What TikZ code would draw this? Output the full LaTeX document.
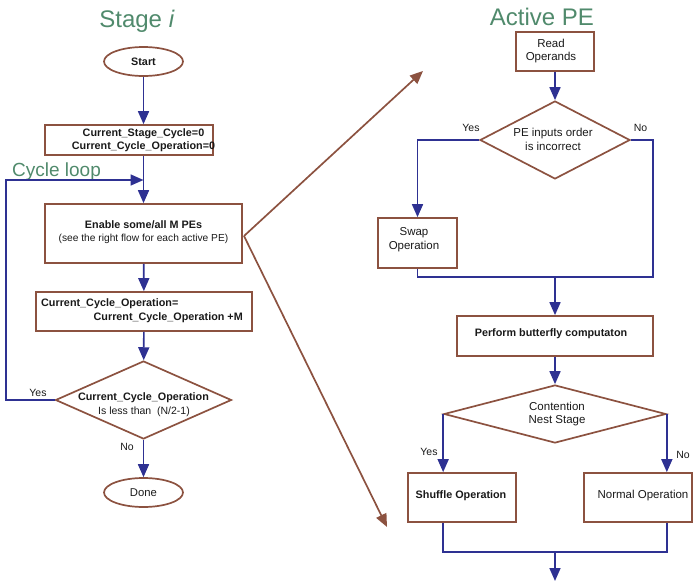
\documentclass[tikz,border=0pt]{standalone}
\usepackage{fontspec}
\setmainfont{Liberation Sans}
\usetikzlibrary{shapes.geometric,arrows.meta,calc}
\definecolor{fblue}{RGB}{46,49,146}
\definecolor{fbrown}{RGB}{140,82,64}
\definecolor{fgreen}{RGB}{80,138,108}
\definecolor{ftext}{RGB}{25,25,25}
\begin{document}
\begin{tikzpicture}[x=1pt,y=-1pt,
  box/.style={draw=fbrown,line width=1.7pt,rectangle,inner sep=0pt},
  oval/.style={draw=fbrown,line width=1.7pt,ellipse,inner sep=0pt,minimum width=79pt,minimum height=29pt},
  dia/.style={draw=fbrown,line width=1.7pt,diamond,inner sep=0pt},
  txt/.style={inner sep=0pt,text=ftext,font=\fontsize{11.5}{13.7}\selectfont,align=center},
  lbl/.style={txt,font=\fontsize{10.5}{13}\selectfont},
  btxt/.style={txt,font=\fontsize{10.8}{13}\selectfont\bfseries},
  title/.style={inner sep=0pt,text=fgreen,anchor=base},
  flow/.style={draw=fblue,line width=1.7pt,-{Triangle[length=13pt,width=11pt]}},
  fline/.style={draw=fblue,line width=1.7pt},
  bflow/.style={draw=fbrown,line width=1.7pt,-{Triangle[length=13pt,width=11pt]}}
]
\useasboundingbox (0,0) rectangle (694,581);
% titles
\node[title,font=\fontsize{24}{28}\selectfont] (t1) at (137,27) {Stage \textit{i}};
\node[title,font=\fontsize{24}{28}\selectfont] (t2) at (542,25) {Active PE};
\node[title,anchor=base west,font=\fontsize{19}{22}\selectfont] (t3) at (12,176) {Cycle loop};
% left flow
\node[oval] (start) at (143.5,61.5) {};
\node[btxt] (startt) at (143.5,61.5) {Start};
\node[box,minimum width=168pt,minimum height=30pt] (b1) at (129,140) {};
\node[btxt] (b1t) at (143.5,140) {Current\_Stage\_Cycle=0\\Current\_Cycle\_Operation=0};
\node[box,minimum width=197pt,minimum height=59pt] (b2) at (143.5,233.5) {};
\node[btxt] (b2a) at (143.5,225) {Enable some/all M PEs};
\node[txt,font=\fontsize{10.2}{12}\selectfont] (b2b) at (143.5,238.5) {(see the right flow for each active PE)};
\node[box,minimum width=216pt,minimum height=39pt] (b3) at (144,311.5) {};
\node[btxt,anchor=west] (b3a) at (41,304) {Current\_Cycle\_Operation=};
\node[btxt,anchor=east] (b3b) at (243,318) {Current\_Cycle\_Operation +M};
\node[dia,minimum width=176pt,minimum height=78pt] (d1) at (143.5,400) {};
\node[btxt] (d1a) at (143.5,398) {Current\_Cycle\_Operation};
\node[lbl] (d1b) at (144,412) {Is less than~ (N/2-1)};
\node[oval] (done) at (143.5,492.5) {};
\node[txt,font=\fontsize{11.3}{13}\selectfont] (donet) at (143.5,492.5) {Done};
\node[lbl] (yes1) at (38,393) {Yes};
\node[lbl] (no1) at (127,447) {No};
\coordinate (loopin) at (143.5,180);
\draw[flow] (start) -- (start |- b1.north);
\draw[flow] (start |- b1.south) -- (b2);
\draw[flow] (d1.west) -- ++(-49,0) |- (loopin);
\draw[flow] (b2) -- (b3);
\draw[flow] (b3) -- (d1);
\draw[flow] (d1) -- (done);
% brown arrows
\coordinate (bsrc) at (244,236);
\coordinate (btop) at (423,71);
\coordinate (bbot) at (387,527);
\draw[bflow] (bsrc) -- (btop);
\draw[bflow] (bsrc) -- (bbot);
% right flow
\node[box,minimum width=78pt,minimum height=39pt] (r1) at (555,51.5) {};
\node[txt] (r1t) at (551,51) {Read\\Operands};
\node[dia,minimum width=150pt,minimum height=78pt] (d2) at (555,140) {};
\node[txt] (d2t) at (553,139.5) {PE inputs order\\is incorrect};
\node[lbl] (yes2) at (471,128) {Yes};
\node[lbl] (no2) at (640.5,128) {No};
\node[box,minimum width=79pt,minimum height=50pt] (swap) at (417.5,243) {};
\node[txt] (swapt) at (414,240) {Swap\\Operation};
\node[box,minimum width=196pt,minimum height=40pt] (perf) at (555,336) {};
\node[btxt] (perft) at (551,334) {Perform butterfly computaton};
\node[dia,minimum width=222pt,minimum height=58pt] (d3) at (555,414) {};
\node[txt] (d3t) at (557,414) {Contention\\Nest Stage};
\node[box,minimum width=108pt,minimum height=49pt] (shuf) at (462,497.5) {};
\node[btxt] (shuft) at (461,496) {Shuffle Operation};
\node[box,minimum width=108pt,minimum height=49pt] (norm) at (638,497.5) {};
\node[txt] (normt) at (643,496) {Normal Operation};
\node[lbl] (yes3) at (429,452) {Yes};
\node[lbl] (no3) at (683,455) {No};
\coordinate (j1) at (555,277);
\coordinate (jR) at (653,277);
\coordinate (j2) at (555,552);
\coordinate (endp) at (555,581);
\draw[flow] (r1) -- (d2);
\draw[flow] (d2.west) -| (swap.north);
\draw[fline] (d2.east) -| (jR) -- (j1);
\draw[fline] (swap.south) |- (j1);
\draw[flow] (j1) -- (perf);
\draw[flow] (perf) -- (d3);
\draw[flow] (d3.west) -- (d3.west |- shuf.north);
\draw[flow] (d3.east) -- (d3.east |- norm.north);
\draw[fline] (d3.west |- shuf.south) |- (j2) -| (d3.east |- norm.south);
\draw[flow] (j2) -- (endp);
\end{tikzpicture}
\end{document}
